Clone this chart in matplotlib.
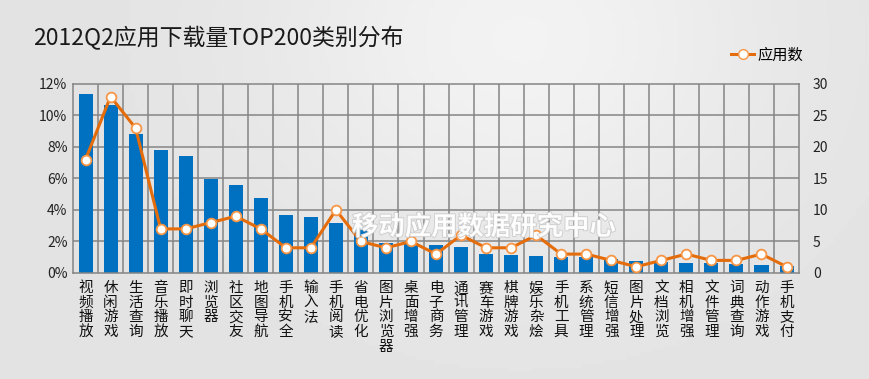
import numpy as np
import matplotlib
matplotlib.use("Agg")
import matplotlib.pyplot as plt
from matplotlib.lines import Line2D
import matplotlib.patheffects as pe

plt.rcParams["font.family"] = ["Noto Sans CJK SC", "DejaVu Sans"]

categories = ["视频播放", "休闲游戏", "生活查询", "音乐播放", "即时聊天", "浏览器", "社区交友",
              "地图导航", "手机安全", "输入法", "手机阅读", "省电优化", "图片浏览器", "桌面增强",
              "电子商务", "通讯管理", "赛车游戏", "棋牌游戏", "娱乐杂烩", "手机工具", "系统管理",
              "短信增强", "图片处理", "文档浏览", "相机增强", "文件管理", "词典查询", "动作游戏",
              "手机支付"]
share_pct = [11.35, 10.65, 8.8, 7.8, 7.4, 5.97, 5.57, 4.76, 3.66, 3.56, 3.15, 2.86, 1.9, 1.9,
             1.78, 1.63, 1.18, 1.12, 1.1, 1.0, 1.0, 0.89, 0.74, 0.68, 0.61, 0.61, 0.55, 0.49, 0.47]
app_count = [18, 28, 23, 7, 7, 8, 9, 7, 4, 4, 10, 5, 4, 5, 3, 6, 4, 4, 6, 3, 3, 2, 1, 2, 3, 2, 2, 3, 1]
left_ticks = [0, 2, 4, 6, 8, 10, 12]
right_ticks = [0, 5, 10, 15, 20, 25, 30]

BLUE = "#0070C0"
ORANGE = "#E46C0A"
GRID = "#858585"

fig = plt.figure(figsize=(8.69, 3.79), dpi=100)

# background gradient
bg = fig.add_axes([0, 0, 1, 1], zorder=-10)
gx = np.linspace(0, 1, 200)
gy = np.linspace(0, 1, 100)
X, Y = np.meshgrid(gx, gy)
grad = 0.89 + 0.06 * np.exp(-((X - 0.6) ** 2) / 0.08 - ((Y - 0.1) ** 2) / 0.3)
bg.imshow(grad, cmap="gray", vmin=0, vmax=1, aspect="auto", extent=[0, 1, 0, 1])
bg.axis("off")

ax = fig.add_axes([0.084, 0.2797, 0.8355, 0.4987])
ax.patch.set_alpha(0)
x = np.arange(len(categories))
ax.bar(x, share_pct, width=0.56, color=BLUE, zorder=2)
ax.set_xlim(-0.5, len(categories) - 0.5)
ax.set_ylim(0, 12)
ax.set_yticks(left_ticks)
ax.set_yticklabels([f"{t}%" for t in left_ticks], fontsize=10, color="#222222")
ax.set_xticks(x)
ax.set_xticklabels(["\n".join(c) for c in categories], fontsize=10.5,
                   linespacing=1.05, va="top", color="#111111")
ax.tick_params(length=0, pad=4)
ax.tick_params(axis="x", pad=6)
for v in np.arange(0.5, len(categories) - 1, 1):
    ax.axvline(v, color=GRID, lw=1.1, zorder=1)
for t in left_ticks[1:-1]:
    ax.axhline(t, color=GRID, lw=1.1, zorder=1)
for s in ax.spines.values():
    s.set_color(GRID)
    s.set_linewidth(1.1)

ax2 = ax.twinx()
ax2.plot(x, app_count, color=ORANGE, lw=2.2, marker="o", ms=7,
         mfc="white", mec="#F79646", mew=1.3, zorder=3)
ax2.set_ylim(0, 30)
ax2.set_yticks(right_ticks)
ax2.set_yticklabels([str(t) for t in right_ticks], fontsize=10, color="#222222")
ax2.tick_params(length=0, pad=10)
for s in ax2.spines.values():
    s.set_visible(False)

fig.text(0.038, 0.900, "2012Q2应用下载量TOP200类别分布", fontsize=16.5, color="#1a1a1a",
         va="center")

# watermark
fig.text(0.405, 0.40, "移动应用数据研究中心", fontsize=19, color="white", alpha=0.9,
         fontweight="bold", style="italic", va="center", zorder=5,
         path_effects=[pe.withStroke(linewidth=1.2, foreground="#c8c8c8")])

handle = Line2D([], [], color=ORANGE, lw=2.2, marker="o", ms=7, mfc="white", mec="#F79646")
fig.legend(handles=[handle], labels=["应用数"], loc="center right",
           bbox_to_anchor=(0.94, 0.855), frameon=False, fontsize=11,
           handlelength=1.5, handletextpad=0.2)

fig.savefig("out.png", dpi=100)
